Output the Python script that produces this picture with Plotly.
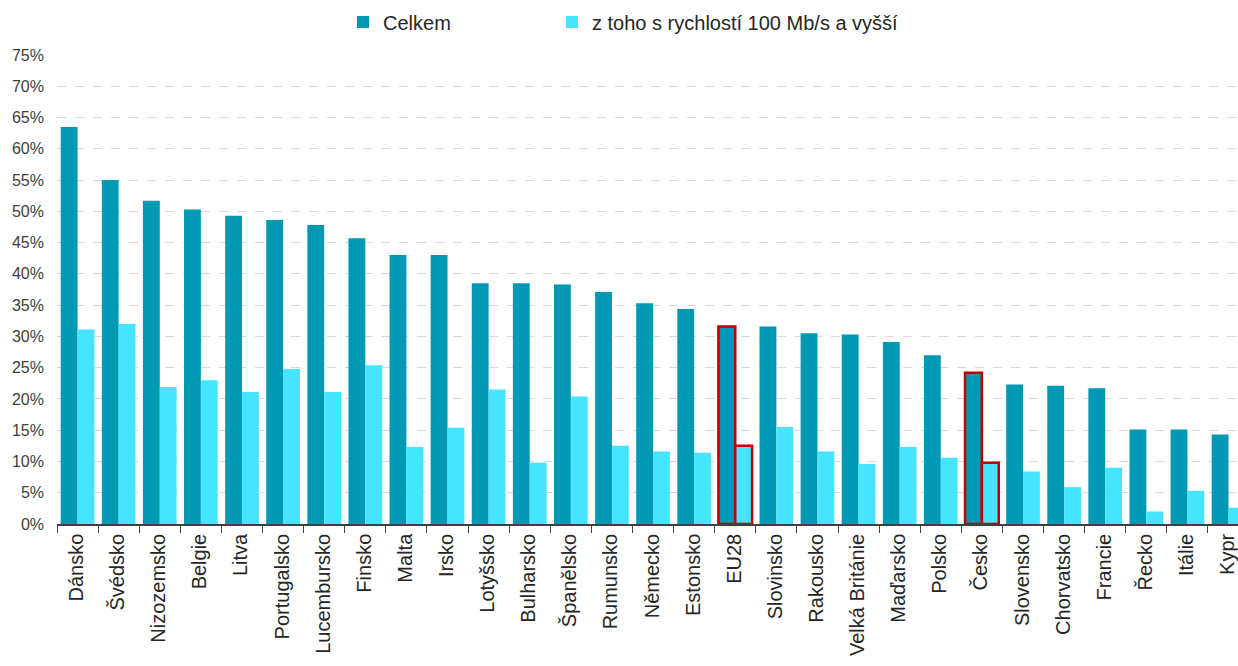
import plotly.graph_objects as go

categories = ["Dánsko", "Švédsko", "Nizozemsko", "Belgie", "Litva", "Portugalsko",
              "Lucembursko", "Finsko", "Malta", "Irsko", "Lotyšsko", "Bulharsko",
              "Španělsko", "Rumunsko", "Německo", "Estonsko", "EU28", "Slovinsko",
              "Rakousko", "Velká Británie", "Maďarsko", "Polsko", "Česko", "Slovensko",
              "Chorvatsko", "Francie", "Řecko", "Itálie", "Kypr"]

celkem = [63.5, 55.0, 51.7, 50.3, 49.3, 48.6, 47.8, 45.7, 43.0, 43.0, 38.5, 38.5,
          38.3, 37.1, 35.3, 34.4, 31.6, 31.6, 30.5, 30.3, 29.1, 27.0, 24.2, 22.3,
          22.1, 21.7, 15.1, 15.1, 14.3]

nad100 = [31.1, 32.0, 21.9, 23.0, 21.1, 24.8, 21.1, 25.4, 12.3, 15.4, 21.5, 9.8,
          20.4, 12.5, 11.6, 11.4, 12.5, 15.5, 11.6, 9.6, 12.3, 10.6, 9.8, 8.4,
          5.9, 9.0, 2.0, 5.3, 2.6]

highlight = ["EU28", "Česko"]

series_names = ["Celkem", "z toho s rychlostí 100 Mb/s a vyšší"]
dark = "#0099B4"
light = "#47E4FF"
red = "#C00000"

line_w = [2.5 if c in highlight else 0 for c in categories]
line_c = [red if c in highlight else "rgba(0,0,0,0)" for c in categories]

fig = go.Figure()
fig.add_trace(go.Bar(
    x=categories, y=[v / 100 for v in celkem], name=series_names[0],
    marker=dict(color=dark, line=dict(width=line_w, color=line_c)),
    legend="legend2", showlegend=True,
))
fig.add_trace(go.Bar(
    x=categories, y=[v / 100 for v in nad100], name=series_names[1],
    marker=dict(color=light, line=dict(width=line_w, color=line_c)),
    legend="legend3", showlegend=True,
))

FIG_W, FIG_H = 1238, 666


def legend_box(xpx):
    return dict(
        orientation="h", xref="container", yref="container",
        x=xpx / FIG_W, xanchor="left", y=1 - 22 / FIG_H, yanchor="middle",
        font=dict(size=20, color="#262626"),
        bgcolor="rgba(0,0,0,0)", visible=True,
    )


fig.update_layout(
    template="none",
    width=FIG_W, height=FIG_H,
    margin=dict(l=57, r=0, t=55, b=142, autoexpand=False),
    paper_bgcolor="white", plot_bgcolor="white",
    barmode="group", bargap=0.18, bargroupgap=0,
    font=dict(family="Liberation Sans, Arial, sans-serif", color="#262626"),
    legend2=legend_box(343),
    legend3=legend_box(552),
    xaxis=dict(
        type="category", range=[-0.5, 28.23], automargin=False,
        tickangle=-90, tickfont=dict(size=20, color="#262626"),
        ticklabeloverflow="allow", ticklabelshift=-1,
        showline=True, linecolor="#404040", linewidth=1.5,
        ticks="outside", tickson="boundaries", ticklen=7, tickcolor="#404040",
        showgrid=False,
    ),
    yaxis=dict(
        range=[0, 0.75], dtick=0.05, tickformat=".0%", automargin=False,
        tickfont=dict(size=16, color="#404040"),
        showgrid=True, gridcolor="#D9D9D9", griddash="dash", gridwidth=1,
        zeroline=False, showline=False, ticks="", ticklabelstandoff=12,
    ),
)

fig.write_html(
    "out.html",
    config={"displayModeBar": False},
    post_script="document.body.style.margin='0';document.body.style.overflow='hidden';",
)
